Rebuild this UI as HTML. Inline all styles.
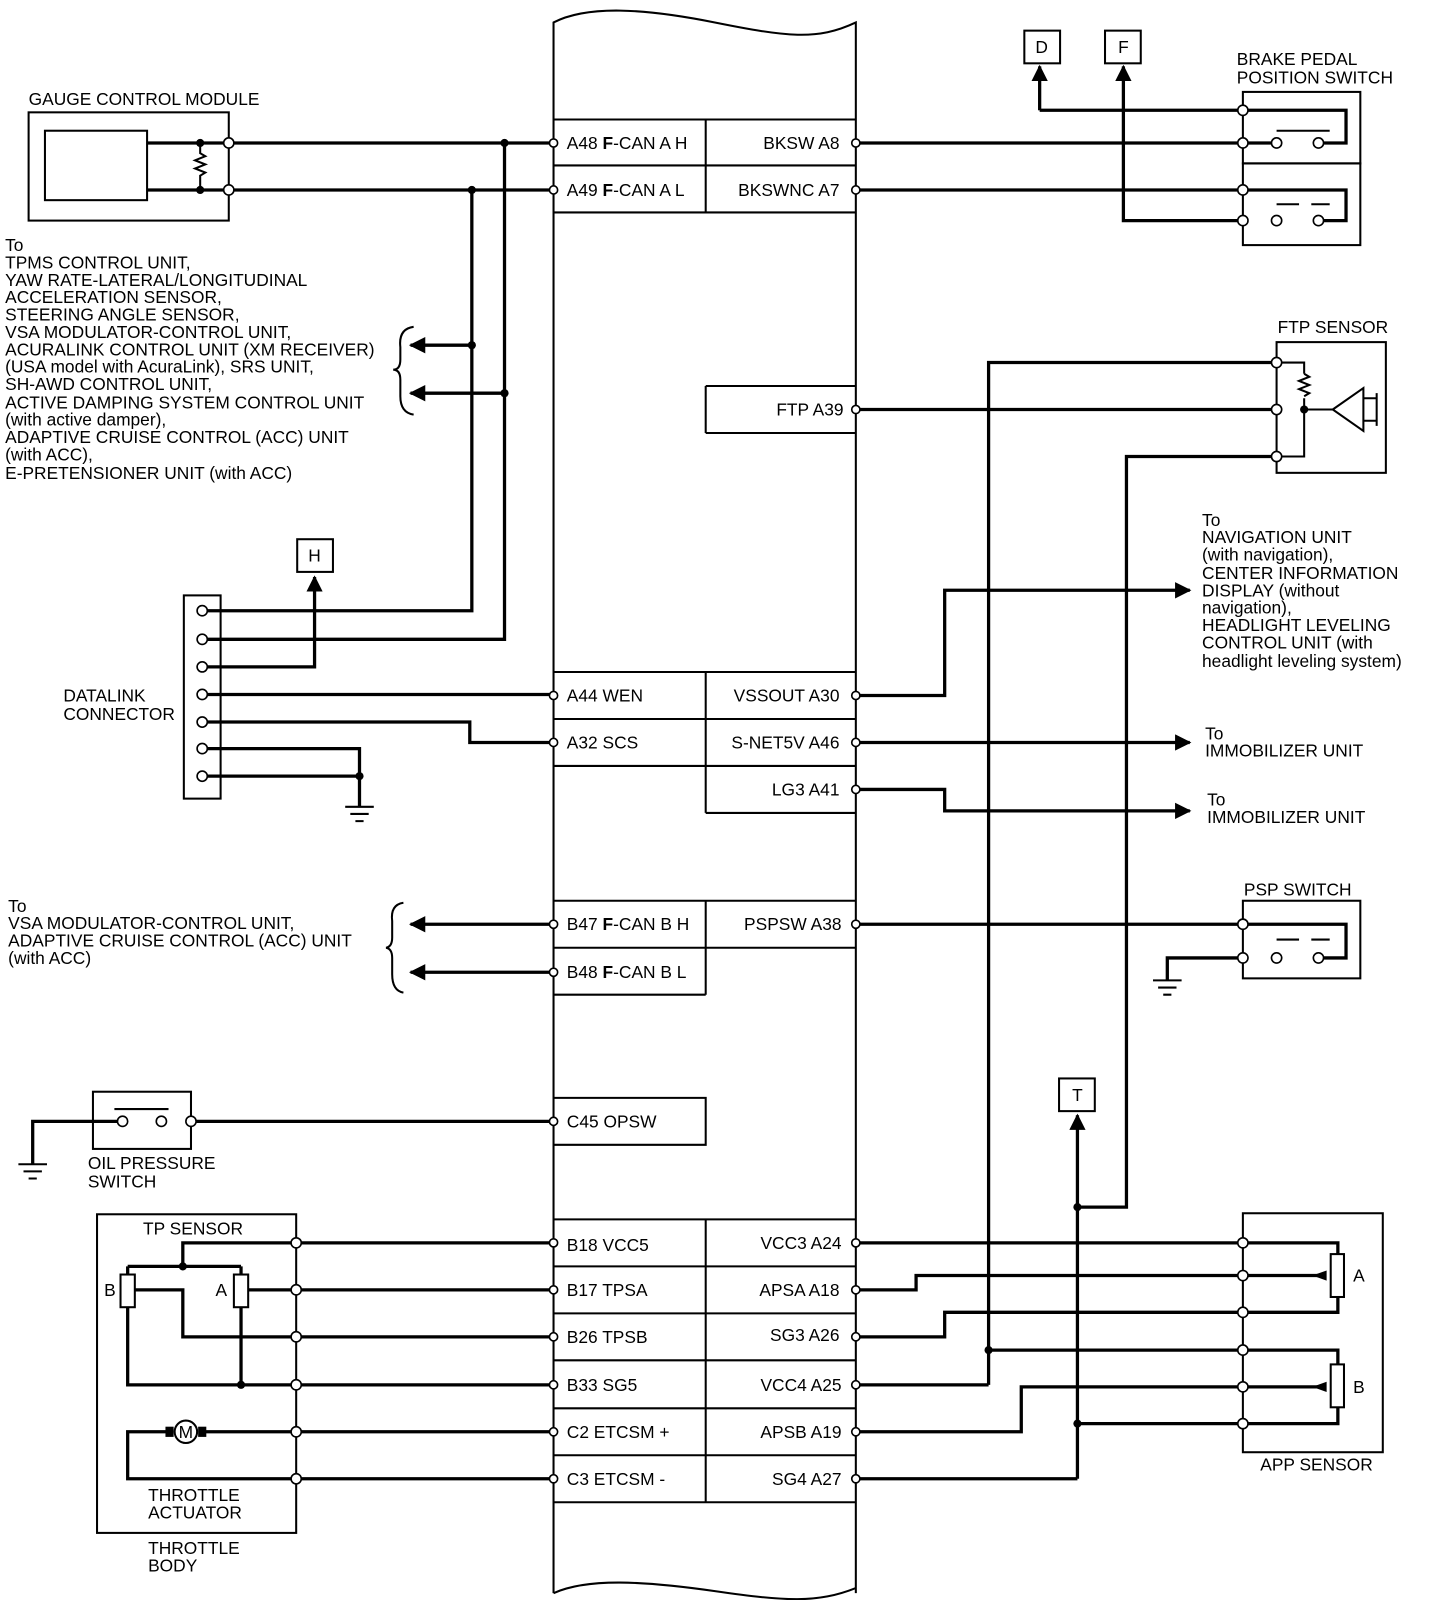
<!DOCTYPE html>
<html><head><meta charset="utf-8"><style>
html,body{margin:0;padding:0;background:#fff;}
svg{display:block;}
text{font-family:"Liberation Sans",Arial,sans-serif;font-size:17px;fill:#000;dominant-baseline:central;}
</style></head><body>
<svg width="1440" height="1600" viewBox="0 0 1410 1566.7" xmlns="http://www.w3.org/2000/svg">
<defs>
<marker id="ar" viewBox="0 0 10 10" refX="9" refY="5" markerWidth="5" markerHeight="5" orient="auto" markerUnits="strokeWidth"><path d="M0,0 L10,5 L0,10 z" fill="#000"/></marker>
</defs>
<g fill="none" stroke="#000" stroke-width="2">
<path d="M542,1560 V22 C575,5 630,8 700,22 S800,40 838,22 V1560"/>
<path d="M542,1560 C575,1545 630,1548 700,1558 S800,1570 838,1555"/>
<path d="M542,117 H838 M542,162 H838 M542,208 H838 M691,117 V208"/>
<path d="M691,378 H838 M691,424 H838 M691,378 V424"/>
<path d="M542,658 H838 M542,704 H838 M542,750 H838 M691,796 H838 M691,658 V796"/>
<path d="M542,882 H838 M542,928 H838 M542,974 H691 M691,882 V974"/>
<path d="M542,1075 H691 V1121 H542"/>
<path d="M542,1194 H838 M542,1240 H838 M542,1286 H838 M542,1332 H838 M542,1379 H838 M542,1425 H838 M542,1471 H838 M691,1194 V1471"/>
<rect x="28" y="110" width="196" height="106"/>
<rect x="44" y="128" width="100" height="68"/>
<rect x="180" y="583" width="36" height="199"/>
<rect x="1217" y="90" width="115" height="70"/>
<rect x="1217" y="160" width="115" height="80"/>
<rect x="1250" y="335" width="107" height="128"/>
<rect x="1217" y="882" width="115" height="76"/>
<rect x="1217" y="1188" width="137" height="234"/>
<rect x="91" y="1069" width="96" height="56"/>
<rect x="95" y="1189" width="195" height="312"/>
<rect x="1003" y="30" width="35" height="32"/>
<rect x="1082" y="30" width="35" height="32"/>
<rect x="291" y="528" width="35" height="32"/>
<rect x="1037" y="1056" width="35" height="32"/>
<path d="M405,320 Q390,322 392,340 L392,352 Q392,362 385,362 Q392,362 392,372 L392,388 Q392,404 405,406"/>
<path d="M395,884 Q382,886 384,902 L384,918 Q384,927 378,928 Q384,929 384,938 L384,954 Q384,970 395,972"/>
</g>
<g fill="none" stroke="#000" stroke-width="3.2">
<path d="M144,140 H542 M144,186 H542"/>
<path d="M494,140 V626 H198 M462,186 V598 H198"/>
<path d="M462,338 H402" marker-end="url(#ar)"/>
<path d="M494,385 H402" marker-end="url(#ar)"/>
<path d="M198,653 H308 V565" marker-end="url(#ar)"/>
<path d="M198,680 H542 M198,707 H460 V727 H542"/>
<path d="M198,733 H352 V790 M198,760 H352"/>
<path d="M542,905 H402" marker-end="url(#ar)"/>
<path d="M542,952 H402" marker-end="url(#ar)"/>
<path d="M187,1098 H542 M120,1098 H32 V1140"/>
<path d="M290,1217 H179 V1240 M125,1240 H236 M125,1240 V1248 M236,1240 V1248 M125,1280 V1356 H290 M236,1280 V1356"/>
<path d="M290,1263 H243 M290,1309 H179 V1263 H132"/>
<path d="M290,1217 H542 M290,1263 H542 M290,1309 H542 M290,1356 H542 M290,1402 H542 M290,1448 H542"/>
<path d="M290,1402 H195 M169,1402 H125 V1448 H290"/>
<path d="M838,140 H1217 M838,186 H1217"/>
<path d="M1018,108 V65" marker-end="url(#ar)"/>
<path d="M1018,108 H1318 V140 H1291 M1217,140 H1250"/>
<path d="M1217,186 H1318 V216 H1291 M1217,216 H1100 V65" marker-end="url(#ar)"/>
<path d="M968,1356 V355 H1250 M838,1356 H968"/>
<path d="M838,401 H1250 M1250,447 H1103 V1182 H1055"/>
<path d="M1055,1448 V1092" marker-end="url(#ar)"/>
<path d="M838,1448 H1055"/>
<path d="M838,681 H925 V578 H1165" marker-end="url(#ar)"/>
<path d="M838,727 H1165" marker-end="url(#ar)"/>
<path d="M838,773 H925 V794 H1165" marker-end="url(#ar)"/>
<path d="M838,905 H1217 H1318 V938 H1291 M1217,938 H1143 V960"/>
<path d="M838,1217 H1310 V1228 M838,1263 H897 V1249 H1298 M838,1309 H925 V1285 H1310 V1270"/>
<path d="M968,1322 H1310 V1336 M838,1402 H1000 V1358 H1298 M1055,1394 H1310 V1378"/>
</g>
<g fill="none" stroke="#000" stroke-width="2">
<path d="M1250,355 H1277 V366 M1277,390 V401 M1250,447 H1277 V401 M1277,401 H1305"/>
<path d="M1277,366 l5,3 -10,4 10,4 -10,4 10,4 -5,3"/>
<path d="M1305,401 L1335,380 V422 Z M1335,390 H1348 M1335,412 H1348 M1348,385 V417"/>
<path d="M196,140 V150 l5,3 -10,4 10,4 -10,4 10,4 -5,3 V186"/>
<path d="M1250,128 H1302 M1250,200 H1272 M1284,200 H1302 M1250,920 H1272 M1284,920 H1302 M112,1086 H165"/>
<rect x="118" y="1248" width="14" height="32" fill="#fff"/>
<rect x="229" y="1248" width="14" height="32" fill="#fff"/>
<rect x="1303" y="1228" width="13" height="42" fill="#fff"/>
<rect x="1303" y="1336" width="13" height="42" fill="#fff"/>
<path d="M338,790 H366 M343,797 H361 M348,804 H356"/>
<path d="M1129,960 H1157 M1134,967 H1152 M1139,974 H1147"/>
<path d="M18,1140 H46 M23,1147 H41 M28,1154 H36"/>
</g>
<path d="M1285,1249 L1299,1244 L1299,1254Z M1285,1358 L1299,1353 L1299,1363Z" fill="#000"/>
<rect x="162" y="1397" width="8" height="10" fill="#000"/><rect x="194" y="1397" width="8" height="10" fill="#000"/>
<circle cx="182" cy="1402" r="11" fill="#fff" stroke="#000" stroke-width="2"/>
<text x="182" y="1402" text-anchor="middle" font-size="13">M</text>
<g fill="#000">
<circle cx="196" cy="140" r="4"/><circle cx="196" cy="186" r="4"/>
<circle cx="494" cy="140" r="4"/><circle cx="462" cy="186" r="4"/>
<circle cx="462" cy="338" r="4"/><circle cx="494" cy="385" r="4"/>
<circle cx="352" cy="760" r="4"/><circle cx="179" cy="1240" r="4"/><circle cx="236" cy="1356" r="4"/>
<circle cx="1277" cy="401" r="4"/><circle cx="1055" cy="1182" r="4"/>
<circle cx="968" cy="1322" r="4"/><circle cx="1055" cy="1394" r="4"/>
</g>
<g fill="#fff" stroke="#000" stroke-width="1.6">
<circle cx="224" cy="140" r="5"/><circle cx="224" cy="186" r="5"/>
<circle cx="198" cy="598" r="5"/><circle cx="198" cy="626" r="5"/><circle cx="198" cy="653" r="5"/><circle cx="198" cy="680" r="5"/><circle cx="198" cy="707" r="5"/><circle cx="198" cy="733" r="5"/><circle cx="198" cy="760" r="5"/>
<circle cx="187" cy="1098" r="5"/><circle cx="120" cy="1098" r="5"/><circle cx="158" cy="1098" r="5"/>
<circle cx="290" cy="1217" r="5"/><circle cx="290" cy="1263" r="5"/><circle cx="290" cy="1309" r="5"/><circle cx="290" cy="1356" r="5"/><circle cx="290" cy="1402" r="5"/><circle cx="290" cy="1448" r="5"/>
<circle cx="1217" cy="108" r="5"/><circle cx="1217" cy="140" r="5"/><circle cx="1217" cy="186" r="5"/><circle cx="1217" cy="216" r="5"/>
<circle cx="1250" cy="140" r="5"/><circle cx="1291" cy="140" r="5"/><circle cx="1250" cy="216" r="5"/><circle cx="1291" cy="216" r="5"/>
<circle cx="1250" cy="355" r="5"/><circle cx="1250" cy="401" r="5"/><circle cx="1250" cy="447" r="5"/>
<circle cx="1217" cy="905" r="5"/><circle cx="1217" cy="938" r="5"/><circle cx="1250" cy="938" r="5"/><circle cx="1291" cy="938" r="5"/>
<circle cx="1217" cy="1217" r="5"/><circle cx="1217" cy="1249" r="5"/><circle cx="1217" cy="1285" r="5"/><circle cx="1217" cy="1322" r="5"/><circle cx="1217" cy="1358" r="5"/><circle cx="1217" cy="1394" r="5"/>
<circle cx="542" cy="140" r="4"/><circle cx="542" cy="186" r="4"/><circle cx="542" cy="681" r="4"/><circle cx="542" cy="727" r="4"/><circle cx="542" cy="905" r="4"/><circle cx="542" cy="952" r="4"/><circle cx="542" cy="1098" r="4"/>
<circle cx="542" cy="1217" r="4"/><circle cx="542" cy="1263" r="4"/><circle cx="542" cy="1309" r="4"/><circle cx="542" cy="1356" r="4"/><circle cx="542" cy="1402" r="4"/><circle cx="542" cy="1448" r="4"/>
<circle cx="838" cy="140" r="4"/><circle cx="838" cy="186" r="4"/><circle cx="838" cy="401" r="4"/><circle cx="838" cy="681" r="4"/><circle cx="838" cy="727" r="4"/><circle cx="838" cy="773" r="4"/><circle cx="838" cy="905" r="4"/>
<circle cx="838" cy="1217" r="4"/><circle cx="838" cy="1263" r="4"/><circle cx="838" cy="1309" r="4"/><circle cx="838" cy="1356" r="4"/><circle cx="838" cy="1402" r="4"/><circle cx="838" cy="1448" r="4"/>
</g>
<text x="555" y="140">A48 <tspan font-weight="bold">F</tspan>-CAN A H</text>
<text x="555" y="186">A49 <tspan font-weight="bold">F</tspan>-CAN A L</text>
<text x="822" y="140" text-anchor="end">BKSW A8</text>
<text x="822" y="186" text-anchor="end">BKSWNC A7</text>
<text x="826" y="401" text-anchor="end">FTP A39</text>
<text x="555" y="681">A44 WEN</text>
<text x="555" y="727">A32 SCS</text>
<text x="822" y="681" text-anchor="end">VSSOUT A30</text>
<text x="822" y="727" text-anchor="end">S-NET5V A46</text>
<text x="822" y="773" text-anchor="end">LG3 A41</text>
<text x="555" y="905">B47 <tspan font-weight="bold">F</tspan>-CAN B H</text>
<text x="555" y="952">B48 <tspan font-weight="bold">F</tspan>-CAN B L</text>
<text x="824" y="905" text-anchor="end">PSPSW A38</text>
<text x="555" y="1098">C45 OPSW</text>
<text x="555" y="1219">B18 VCC5</text>
<text x="555" y="1263">B17 TPSA</text>
<text x="555" y="1309">B26 TPSB</text>
<text x="555" y="1356">B33 SG5</text>
<text x="555" y="1402">C2 ETCSM +</text>
<text x="555" y="1448">C3 ETCSM -</text>
<text x="824" y="1217" text-anchor="end">VCC3 A24</text>
<text x="822" y="1263" text-anchor="end">APSA A18</text>
<text x="822" y="1307" text-anchor="end">SG3 A26</text>
<text x="824" y="1356" text-anchor="end">VCC4 A25</text>
<text x="824" y="1402" text-anchor="end">APSB A19</text>
<text x="824" y="1448" text-anchor="end">SG4 A27</text>
<text x="28" y="97">GAUGE CONTROL MODULE</text>
<text x="1020" y="46" text-anchor="middle">D</text>
<text x="1100" y="46" text-anchor="middle">F</text>
<text x="308" y="544" text-anchor="middle">H</text>
<text x="1055" y="1072" text-anchor="middle">T</text>
<text x="1211" y="58">BRAKE PEDAL</text>
<text x="1211" y="76">POSITION SWITCH</text>
<text x="1251" y="320">FTP SENSOR</text>
<text x="1218" y="871">PSP SWITCH</text>
<text x="1234" y="1434">APP SENSOR</text>
<text x="1325" y="1249">A</text>
<text x="1325" y="1358">B</text>
<text x="62" y="681">DATALINK</text>
<text x="62" y="699">CONNECTOR</text>
<text x="86" y="1139">OIL PRESSURE</text>
<text x="86" y="1157">SWITCH</text>
<text x="140" y="1203">TP SENSOR</text>
<text x="102" y="1263">B</text>
<text x="211" y="1263">A</text>
<text x="145" y="1464">THROTTLE</text>
<text x="145" y="1481">ACTUATOR</text>
<text x="145" y="1516">THROTTLE</text>
<text x="145" y="1533">BODY</text>
<text x="5" y="240">To</text>
<text x="5" y="257">TPMS CONTROL UNIT,</text>
<text x="5" y="274">YAW RATE-LATERAL/LONGITUDINAL</text>
<text x="5" y="291">ACCELERATION SENSOR,</text>
<text x="5" y="308">STEERING ANGLE SENSOR,</text>
<text x="5" y="325">VSA MODULATOR-CONTROL UNIT,</text>
<text x="5" y="342">ACURALINK CONTROL UNIT (XM RECEIVER)</text>
<text x="5" y="359">(USA model with AcuraLink), SRS UNIT,</text>
<text x="5" y="376">SH-AWD CONTROL UNIT,</text>
<text x="5" y="394">ACTIVE DAMPING SYSTEM CONTROL UNIT</text>
<text x="5" y="411" font-size="16">(with active damper),</text>
<text x="5" y="428">ADAPTIVE CRUISE CONTROL (ACC) UNIT</text>
<text x="5" y="445" font-size="16">(with ACC),</text>
<text x="5" y="463">E-PRETENSIONER UNIT (with ACC)</text>
<text x="8" y="887">To</text>
<text x="8" y="904">VSA MODULATOR-CONTROL UNIT,</text>
<text x="8" y="921">ADAPTIVE CRUISE CONTROL (ACC) UNIT</text>
<text x="8" y="938" font-size="16">(with ACC)</text>
<text x="1177" y="509">To</text>
<text x="1177" y="526">NAVIGATION UNIT</text>
<text x="1177" y="543" font-size="16">(with navigation),</text>
<text x="1177" y="561">CENTER INFORMATION</text>
<text x="1177" y="578">DISPLAY (without</text>
<text x="1177" y="595" font-size="16">navigation),</text>
<text x="1177" y="612">HEADLIGHT LEVELING</text>
<text x="1177" y="629">CONTROL UNIT (with</text>
<text x="1177" y="647" font-size="16">headlight leveling system)</text>
<text x="1180" y="718">To</text>
<text x="1180" y="735">IMMOBILIZER UNIT</text>
<text x="1182" y="783">To</text>
<text x="1182" y="800">IMMOBILIZER UNIT</text>
</svg>
</body></html>
